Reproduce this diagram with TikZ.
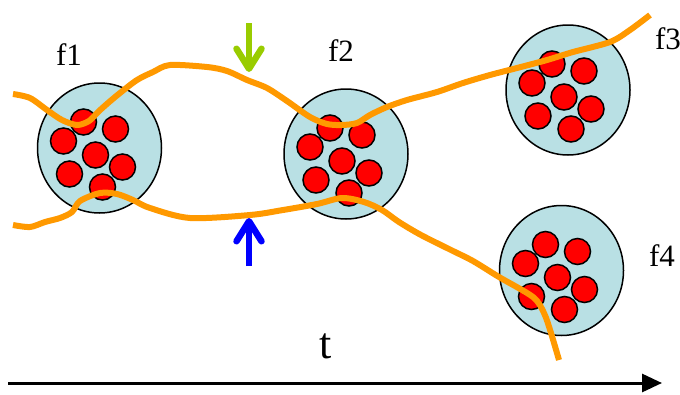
\documentclass[tikz,border=0pt]{standalone}
\usepackage{fontspec}
\setmainfont{Liberation Serif}
\usetikzlibrary{shapes.geometric, arrows.meta}

\definecolor{cellblue}{RGB}{185,224,228}
\definecolor{trackorange}{RGB}{255,153,0}
\definecolor{limegreen}{RGB}{153,204,0}

\begin{document}
\begin{tikzpicture}[x=1pt, y=-1pt,
  cluster/.style={ellipse, draw, line width=1.5pt, fill=cellblue,
    minimum width=124pt, minimum height=130pt, inner sep=0pt},
  blob/.style={circle, draw, line width=1.5pt, fill=red,
    minimum size=26pt, inner sep=0pt},
  track/.style={trackorange, line width=6pt, line join=round},
  lbl/.style={font=\fontsize{31}{36}\selectfont, inner sep=0pt}]
  \useasboundingbox (0,0) rectangle (680,394);

  % clusters with their members
  \node[cluster] (c1) at (99.5,148) {};
  \node[cluster] (c2) at (346,154) {};
  \node[cluster] (c3) at (568,90) {};
  \node[cluster] (c4) at (561.5,270.5) {};
  \foreach \c in {c1,c2,c3,c4}
    \foreach \dx/\dy [count=\i] in {-16/-26, 16/-19, -36/-7, -4/7, 23/19, -30/26, 3/39}
      \node[blob] (\c-\i) at ([shift={(\dx,\dy)}]\c.center) {};

  \node[lbl] (f1) at (69,55) {f1};
  \node[lbl] (f2) at (341,51) {f2};
  \node[lbl] (f3) at (668,39) {f3};
  \node[lbl] (f4) at (662,256) {f4};
  \node[lbl, font=\fontsize{44}{48}\selectfont] (t) at (326,346) {t};

  % tracks
  \draw[track] plot[smooth, tension=0.5] coordinates {
    (13,94) (30,98) (47,110) (62,120) (77,125) (89,121) (98,112) (108,103)
    (120,93) (137,80) (153,72) (170,65) (207,67) (227,71) (247,80) (267,88)
    (287,101) (310,117) (327,124) (342,125) (357,123) (370,115) (387,107)
    (407,100) (437,92) (463,83) (490,75) (517,68) (547,60) (573,52) (610,42)
    (630,30) (650,15)};
  \draw[track] plot[smooth, tension=0.5] coordinates {
    (13,225) (30,227) (45,222) (60,218) (72,212) (80,201) (100,193) (117,194)
    (133,200) (150,208) (190,218) (250,215) (283,210) (317,204) (342,198)
    (364,202) (382,210) (399,222) (421,235) (451,250) (473,261) (499,277)
    (533,297) (544,313) (551,333) (559,360)};

  % markers
  \coordinate (gtop) at (249,23);
  \coordinate (gtip) at (249,72);
  \coordinate (btip) at (249,218);
  \coordinate (bbot) at (249,266);
  \draw[limegreen, line width=6.5pt,
    -{Straight Barb[length=20pt, width=25pt, round]}] (gtop) -- (gtip);
  \draw[blue, line width=6.5pt,
    -{Straight Barb[length=20pt, width=25pt, round]}] (bbot) -- (btip);

  % time axis
  \coordinate (t0) at (8,383);
  \coordinate (t1) at (662,383);
  \draw[line width=3pt, -{Triangle[length=20pt, width=18pt]}] (t0) -- (t1);
\end{tikzpicture}
\end{document}
